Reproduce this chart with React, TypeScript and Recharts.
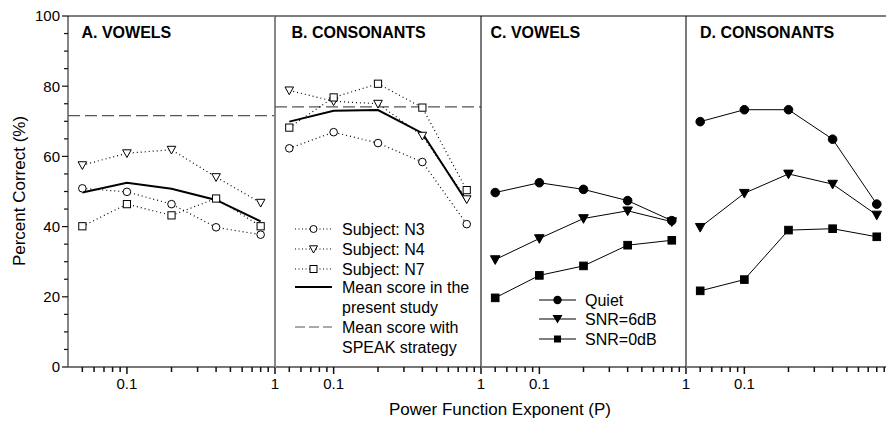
import React from 'react';
import { LineChart, Line, XAxis, YAxis, ReferenceLine, Legend } from 'recharts';

// exponent P used in every panel
const exponents = [0.05, 0.1, 0.2, 0.4, 0.8];

// A. vowels, individual subjects + mean
const vowelN3 = [50.9, 49.9, 46.4, 39.8, 37.7];
const vowelN4 = [57.5, 60.9, 61.9, 54.1, 46.8];
const vowelN7 = [40.1, 46.4, 43.2, 48.0, 40.1];
const vowelMean = [49.7, 52.5, 50.8, 47.6, 41.5];
const speakVowels = 71.6;

// B. consonants
const consN3 = [62.3, 66.9, 63.8, 58.4, 40.7];
const consN4 = [78.8, 75.7, 75.0, 65.9, 47.8];
const consN7 = [68.2, 76.8, 80.7, 73.9, 50.4];
const consMean = [69.9, 73.0, 73.2, 66.6, 47.1];
const speakConsonants = 74.1;

// C. vowels in noise
const vowelQuiet = [49.7, 52.5, 50.6, 47.4, 41.7];
const vowelSnr6 = [30.6, 36.6, 42.3, 44.5, 41.4];
const vowelSnr0 = [19.7, 26.1, 28.8, 34.7, 36.1];

// D. consonants in noise
const consQuiet = [69.9, 73.3, 73.3, 64.9, 46.4];
const consSnr6 = [39.8, 49.5, 55.0, 52.1, 43.3];
const consSnr0 = [21.7, 24.9, 39.0, 39.4, 37.1];

const yTicks = [0, 5, 10, 15, 20, 25, 30, 35, 40, 45, 50, 55, 60, 65, 70, 75, 80, 85, 90, 95, 100];
const xTicks = [0.05, 0.06, 0.07, 0.08, 0.09, 0.1, 0.2, 0.3, 0.4, 0.5, 0.6, 0.7, 0.8, 0.9, 1];
const xLabelled = [0.1, 1];
const xMin = 0.04;

const titles = ['A. VOWELS', 'B. CONSONANTS', 'C. VOWELS', 'D. CONSONANTS'];
const subjectLabels = ['Subject: N3', 'Subject: N4', 'Subject: N7'];
const meanLabel = ['Mean score in the', 'present study'];
const speakLabel = ['Mean score with', 'SPEAK strategy'];
const noiseLabels = ['Quiet', 'SNR=6dB', 'SNR=0dB'];

const FONT = 'Arial, "Liberation Sans", sans-serif';

const vowelSubjects = exponents.map((p, i) => ({ p, n3: vowelN3[i], n4: vowelN4[i], n7: vowelN7[i], mean: vowelMean[i] }));
const consSubjects = exponents.map((p, i) => ({ p, n3: consN3[i], n4: consN4[i], n7: consN7[i], mean: consMean[i] }));
const vowelNoise = exponents.map((p, i) => ({ p, quiet: vowelQuiet[i], snr6: vowelSnr6[i], snr0: vowelSnr0[i] }));
const consNoise = exponents.map((p, i) => ({ p, quiet: consQuiet[i], snr6: consSnr6[i], snr0: consSnr0[i] }));

// markers
const circle = (fill: string, r: number) => (props: any) => {
  const { cx, cy, index } = props;
  if (cx == null || cy == null) return <g key={index} />;
  return <circle key={index} cx={cx} cy={cy} r={r} fill={fill} stroke="#000" strokeWidth={1} />;
};
const triangle = (fill: string, s: number) => (props: any) => {
  const { cx, cy, index } = props;
  if (cx == null || cy == null) return <g key={index} />;
  return <polygon key={index} points={`${cx - s},${cy - s * 0.8} ${cx + s},${cy - s * 0.8} ${cx},${cy + s}`} fill={fill} stroke="#000" strokeWidth={1} />;
};
const square = (fill: string, s: number) => (props: any) => {
  const { cx, cy, index } = props;
  if (cx == null || cy == null) return <g key={index} />;
  return <rect key={index} x={cx - s} y={cy - s} width={s * 2} height={s * 2} fill={fill} stroke="#000" strokeWidth={1} />;
};

const XTick = (props: any) => {
  const { x, y, payload } = props;
  const major = xLabelled.includes(payload.value);
  return (
    <g>
      <rect x={x - 0.75} y={y} width={1.5} height={major ? 7 : 5} fill="#111" />
      {major && (
        <text x={x} y={y + 22} textAnchor="middle" fontSize={15} fill="#000">
          {payload.value}
        </text>
      )}
    </g>
  );
};

const YTickLabelled = (props: any) => {
  const { x, y, payload } = props;
  const major = payload.value % 20 === 0;
  const len = major ? 6 : 4;
  return (
    <g>
      <rect x={x - len} y={y - 0.6} width={len} height={1.2} fill="#111" />
      {major && (
        <text x={x - 8} y={y + 5.4} textAnchor="end" fontSize={15} fill="#000">
          {payload.value}
        </text>
      )}
    </g>
  );
};

const YTickRight = (props: any) => {
  const { x, y, payload } = props;
  const len = payload.value % 20 === 0 ? 5 : 3.5;
  return <rect x={x} y={y - 0.6} width={len} height={1.2} fill="#111" />;
};

const YTickCross = (props: any) => {
  const { x, y, payload } = props;
  const half = payload.value % 20 === 0 ? 4.5 : 3;
  return <rect x={x - half} y={y - 0.6} width={half * 2} height={1.2} fill="#111" />;
};

const yTickKinds: any = { labels: YTickLabelled, right: YTickRight, cross: YTickCross };

function SubjectLegend() {
  const rows = [14, 34, 54];
  const markers = [
    <circle cx={28.5} cy={14} r={3.5} fill="#fff" stroke="#000" />,
    <polygon points="24.5,30.8 32.5,30.8 28.5,38" fill="#fff" stroke="#000" />,
    <rect x={25} y={50.5} width={7} height={7} fill="#fff" stroke="#000" />,
  ];
  return (
    <svg width={200} height={145} style={{ fontFamily: FONT }}>
      {subjectLabels.map((l, i) => (
        <g key={l}>
          <path d={`M10 ${rows[i]} H47`} stroke="#000" strokeDasharray="1 2.5" />
          {markers[i]}
          <text x={57} y={rows[i] + 5.7} fontSize={16}>{l}</text>
        </g>
      ))}
      <rect x={10} y={71} width={37} height={2} fill="#000" />
      <text x={57} y={77.7} fontSize={16}>{meanLabel[0]}</text>
      <text x={57} y={97.7} fontSize={16}>{meanLabel[1]}</text>
      <path d="M10 112 H47" stroke="#555" strokeDasharray="10 4" />
      <text x={57} y={117.7} fontSize={16}>{speakLabel[0]}</text>
      <text x={57} y={137.7} fontSize={16}>{speakLabel[1]}</text>
    </svg>
  );
}

function NoiseLegend() {
  const rows = [12, 31, 51];
  const markers = [
    <circle cx={27.5} cy={12} r={4.2} fill="#000" />,
    <polygon points="22.5,27 32.5,27 27.5,35.5" fill="#000" />,
    <rect x={24} y={47.5} width={7} height={7} fill="#000" />,
  ];
  return (
    <svg width={150} height={65} style={{ fontFamily: FONT }}>
      {noiseLabels.map((l, i) => (
        <g key={l}>
          <rect x={9} y={rows[i] - 0.5} width={37} height={1} fill="#000" />
          {markers[i]}
          <text x={55} y={rows[i] + 5.7} fontSize={16}>{l}</text>
        </g>
      ))}
    </svg>
  );
}

function Panel(props: any) {
  const { plotLeft, plotWidth, xMax, data, yMode, yStroke, yStrokeWidth, children } = props;
  const yw = yMode === 'labels' ? 60 : 0;
  const ml = 8;
  const mr = 8;
  return (
    <div style={{ position: 'absolute', left: plotLeft - ml - yw, top: 0 }}>
      <LineChart width={ml + yw + plotWidth + mr} height={423} data={data} margin={{ top: 16, right: mr, bottom: 26, left: ml }}>
        <XAxis
          dataKey="p"
          type="number"
          scale="log"
          domain={[xMin, xMax]}
          allowDataOverflow
          ticks={xTicks.filter((t) => t <= xMax)}
          interval={0}
          tickSize={0}
          tickMargin={0}
          tickLine={false}
          tick={XTick}
          axisLine={{ stroke: '#777', strokeWidth: 2 }}
          height={30}
        />
        <YAxis
          type="number"
          domain={[0, 100]}
          ticks={yTicks}
          interval={0}
          width={yw}
          tickSize={0}
          tickMargin={0}
          tickLine={false}
          tick={yTickKinds[yMode]}
          axisLine={false}
        />
        <ReferenceLine x={xMin} stroke={yStroke} strokeWidth={yStrokeWidth} />
        <ReferenceLine y={100} stroke="#000" strokeWidth={1} />
        {children}
      </LineChart>
    </div>
  );
}

function subjectLines(dashY: number) {
  return [
    <ReferenceLine key="speak" y={dashY} stroke="#555" strokeWidth={1.3} strokeDasharray="12 5" />,
    <Line key="mean" dataKey="mean" stroke="#000" strokeWidth={2} dot={false} activeDot={false} isAnimationActive={false} />,
    <Line key="n3" dataKey="n3" stroke="#000" strokeWidth={1.2} strokeDasharray="1 3" dot={circle('#fff', 3.8)} activeDot={false} isAnimationActive={false} />,
    <Line key="n4" dataKey="n4" stroke="#000" strokeWidth={1.2} strokeDasharray="1 3" dot={triangle('#fff', 4.3)} activeDot={false} isAnimationActive={false} />,
    <Line key="n7" dataKey="n7" stroke="#000" strokeWidth={1.2} strokeDasharray="1 3" dot={square('#fff', 3.6)} activeDot={false} isAnimationActive={false} />,
  ];
}

function noiseLines() {
  return [
    <Line key="quiet" dataKey="quiet" stroke="#000" strokeWidth={1} dot={circle('#000', 4.3)} activeDot={false} isAnimationActive={false} />,
    <Line key="snr6" dataKey="snr6" stroke="#000" strokeWidth={1} dot={triangle('#000', 4.8)} activeDot={false} isAnimationActive={false} />,
    <Line key="snr0" dataKey="snr0" stroke="#000" strokeWidth={1} dot={square('#000', 3.8)} activeDot={false} isAnimationActive={false} />,
  ];
}

export default function App() {
  return (
    <div style={{ position: 'absolute', left: 0, top: 0, width: 886, height: 423, background: '#fff', fontFamily: FONT, overflow: 'hidden' }}>
      <svg width={886} height={423} style={{ position: 'absolute', left: 0, top: 0, fontFamily: FONT }}>
        <text x={81.5} y={37.7} fontSize={16} fontWeight="bold">{titles[0]}</text>
        <text x={291.5} y={37.7} fontSize={16} fontWeight="bold">{titles[1]}</text>
        <text x={490.5} y={37.7} fontSize={16} fontWeight="bold">{titles[2]}</text>
        <text x={700} y={37.7} fontSize={16} fontWeight="bold">{titles[3]}</text>
        <text x={0} y={0} fontSize={17} textAnchor="middle" transform="translate(25,191) rotate(-90)">Percent Correct (%)</text>
        <text x={500} y={415} fontSize={17} textAnchor="middle">Power Function Exponent (P)</text>
      </svg>
      <Panel plotLeft={68} plotWidth={207} xMax={1} data={vowelSubjects} yMode="labels" yStroke="#333" yStrokeWidth={1.2}>
        {subjectLines(speakVowels)}
      </Panel>
      <Panel plotLeft={275} plotWidth={206} xMax={1} data={consSubjects} yMode="right" yStroke="#888" yStrokeWidth={2}>
        {subjectLines(speakConsonants)}
        <Legend
          layout="vertical"
          align="center"
          verticalAlign="middle"
          content={() => <SubjectLegend />}
          wrapperStyle={{ position: 'absolute', left: 18, top: 215, width: 200, height: 145 }}
        />
      </Panel>
      <Panel plotLeft={481} plotWidth={205} xMax={1} data={vowelNoise} yMode="cross" yStroke="#222" yStrokeWidth={1.2}>
        {noiseLines()}
        <Legend
          layout="vertical"
          align="center"
          verticalAlign="middle"
          content={() => <NoiseLegend />}
          wrapperStyle={{ position: 'absolute', left: 57, top: 288, width: 150, height: 65 }}
        />
      </Panel>
      <Panel plotLeft={686} plotWidth={200} xMax={0.925} data={consNoise} yMode="cross" yStroke="#222" yStrokeWidth={1.2}>
        {noiseLines()}
      </Panel>
    </div>
  );
}
